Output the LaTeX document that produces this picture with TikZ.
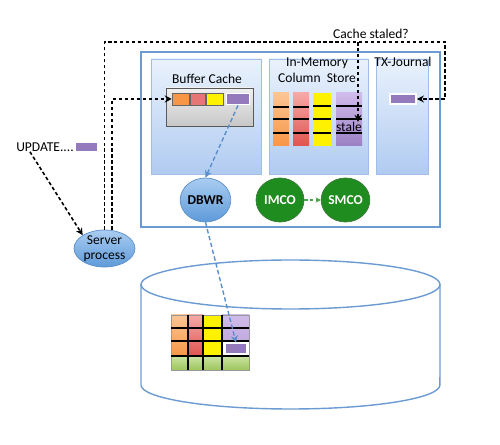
\documentclass[tikz,border=0pt]{standalone}
\usepackage{fontspec}
\setmainfont{Carlito}
\usetikzlibrary{shapes.geometric, arrows.meta}

\definecolor{sgablue}{HTML}{6B9BD2}
\definecolor{paneltop}{HTML}{EAF2FC}
\definecolor{panelbot}{HTML}{B0CBF1}
\definecolor{panelline}{HTML}{A0BEE8}
\definecolor{proctop}{HTML}{AACDF1}
\definecolor{procbot}{HTML}{5E9AD9}
\definecolor{procline}{HTML}{5B8FCB}
\definecolor{imgreen}{HTML}{1E8C1E}
\definecolor{imline}{HTML}{3A7A3A}
\definecolor{otop}{HTML}{FBC595}
\definecolor{obot}{HTML}{F79646}
\definecolor{rtop}{HTML}{F5A9A7}
\definecolor{rbot}{HTML}{DF5450}
\definecolor{ptop}{HTML}{D0BCEA}
\definecolor{pbot}{HTML}{9B7FC4}
\definecolor{rowpurple}{HTML}{9479BC}
\definecolor{gtop}{HTML}{CBE3A2}
\definecolor{gbot}{HTML}{9CC65C}

\begin{document}
\begin{tikzpicture}[x=0.02cm, y=-0.02cm, font=\fontsize{7.7}{9}\selectfont,
    panel/.style={draw=panelline, top color=paneltop, bottom color=panelbot},
    blackarrow/.style={draw=black, line width=0.9pt, dash pattern=on 2pt off 1.4pt, -{Stealth[length=4pt, width=4pt]}},
    bluearrow/.style={draw=procline, line width=0.8pt, dash pattern=on 2.5pt off 1.5pt, -{Stealth[length=4pt, width=4pt]}},
    proc/.style={ellipse, draw=procline, top color=proctop, bottom color=procbot, inner sep=0pt, align=center},
    bgproc/.style={ellipse, draw=imline, fill=imgreen, text=white, inner sep=0pt, minimum width=0.96cm, minimum height=0.88cm, font=\fontsize{7.7}{9}\selectfont\bfseries},
    cell/.style={draw=black!60, line width=0.3pt, inner sep=0pt, minimum height=0.24cm},
    rowbox/.style={draw=white, line width=1pt, fill=rowpurple, inner sep=0pt, minimum height=0.2cm}]
  \useasboundingbox (0,0) rectangle (500,445);

  % SGA
  \draw[sgablue, line width=0.7pt, fill=white] (141,52) rectangle (440,227);
  \draw[panel] (151,59) rectangle (261,174);
  \draw[panel] (269,59) rectangle (368,174);
  \draw[panel] (376,59) rectangle (428,174);
  \node (bcT) at (207,79) {Buffer Cache};
  \node[align=center] (imT) at (317,70) {In-Memory\\Column\ \ Store};
  \node (txT) at (403,62) {TX-Journal};

  % buffer cache
  \draw[draw=black!65, top color=black!6, bottom color=black!22] (166,88) rectangle (253,126);
  \node[cell, fill=obot, minimum width=0.34cm] (bcO) at (180.5,99) {};
  \node[cell, fill=rbot!80, minimum width=0.3cm] (bcR) at (197.5,99) {};
  \node[cell, fill=yellow, minimum width=0.34cm] (bcY) at (214.5,99) {};
  \node[rowbox, minimum width=0.46cm, minimum height=0.22cm] (bcP) at (238,99) {};

  % column store
  \fill[top color=otop, bottom color=obot] (273,93) rectangle (289,146);
  \fill[top color=rtop, bottom color=rbot] (293,93) rectangle (309,146);
  \fill[yellow] (313,93) rectangle (331,146);
  \fill[top color=ptop, bottom color=pbot] (336,93) rectangle (362,146);
  \draw[line width=0.9pt] (273,107) -- (289,107) (273,119) -- (289,119) (273,133) -- (289,133)
    (293,107) -- (309,107) (293,119) -- (309,119) (293,133) -- (309,133)
    (313,106) -- (331,106) (313,119) -- (331,119) (313,133) -- (331,133)
    (336,106) -- (362,106) (336,119) -- (362,119) (336,133) -- (362,133);
  \node[inner sep=0pt] (stale) at (349,127) {stale};

  % tx journal
  \node[rowbox, minimum width=0.52cm] (tx) at (403,99) {};

  % processes
  \node[proc, minimum width=0.98cm, minimum height=0.88cm, font=\fontsize{7.7}{9}\selectfont\bfseries] (dbwr) at (205.5,200) {DBWR};
  \node[bgproc] (imco) at (280,200) {IMCO};
  \node[bgproc] (smco) at (345.5,200) {SMCO};
  \node[proc, minimum width=1.22cm, minimum height=0.74cm, font=\fontsize{7.7}{8.5}\selectfont] (srv) at (104.5,248.5) {Server\\process};

  % update
  \node[inner sep=0pt] (upd) at (45,147) {UPDATE....};
  \node[rowbox, minimum width=0.44cm] (updBox) at (86.5,147) {};

  % disk
  \draw[sgablue, line width=0.8pt] (141,284) -- (141,385) arc[start angle=180, end angle=360, x radius=2.99cm, y radius=0.48cm] -- (440,284);
  \draw[sgablue, line width=0.8pt] (290.5,284.5) ellipse [x radius=2.99cm, y radius=0.49cm];
  \fill[top color=otop, bottom color=obot] (171,315) rectangle (188,356);
  \fill[top color=rtop, bottom color=rbot] (188,315) rectangle (203,356);
  \fill[yellow] (203,315) rectangle (222,356);
  \fill[top color=ptop, bottom color=ptop!70!pbot] (222,315) rectangle (249,341);
  \fill[white] (222,341) rectangle (249,356);
  \fill[top color=gtop, bottom color=gbot] (171,356) rectangle (249,370);
  \node[rowbox, minimum width=0.44cm] (dkP) at (236,348.5) {};
  \draw[black!40] (171,315) rectangle (249,370);
  \draw[line width=1.2pt] (188,315) -- (188,370) (203,315) -- (203,370) (222,315) -- (222,370)
    (171,328) -- (249,328) (171,341) -- (249,341) (171,356) -- (249,356);

  % connectors
  \coordinate (topR) at (445,42);
  \coordinate (qTop) at (358,42);
  \node (cq) at (371,34) {Cache staled?};
  \draw[blackarrow] ([xshift=0.28cm]upd.south west) -- (srv.north west);
  \draw[blackarrow] (srv.north) |- (topR) |- (tx.east);
  \draw[blackarrow] ([xshift=0.15cm]srv.north) |- (bcO.west);
  \draw[blackarrow] (qTop) -- (qTop |- stale.north);
  \draw[bluearrow] (bcP.south) -- (dbwr.north);
  \draw[bluearrow] (dbwr.south) -- (dkP.north);
  \draw[draw=imgreen!80!white, line width=0.8pt, dash pattern=on 2pt off 1.2pt, -{Stealth[length=3pt, width=3pt]}] (imco) -- (smco);
\end{tikzpicture}
\end{document}
